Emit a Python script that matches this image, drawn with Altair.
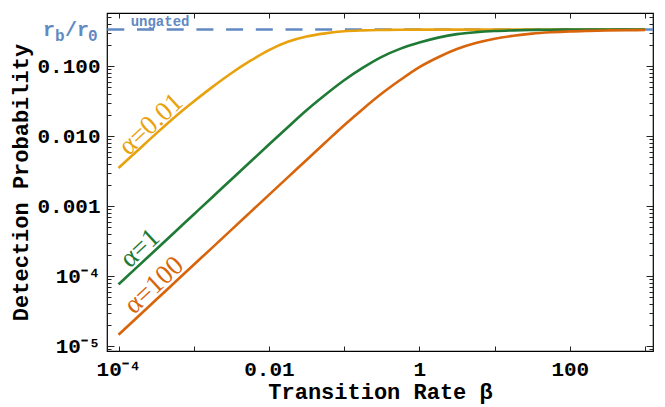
import math
import altair as alt
import pandas as pd

# ---------------- data ----------------
betas = [1e-4, 1.78e-4, 3.16e-4, 5.62e-4,
         1e-3, 1.78e-3, 3.16e-3, 5.62e-3,
         1e-2, 1.78e-2, 3.16e-2, 5.62e-2,
         0.1, 0.178, 0.316, 0.562,
         1, 1.78, 3.16, 5.62,
         10, 17.8, 31.6, 56.2,
         100, 178, 316, 562, 1000]

p_alpha_001 = [0.0035, 0.00619, 0.01089, 0.01884,
               0.03126, 0.0507, 0.0794, 0.1189,
               0.170, 0.2239, 0.2661, 0.2951,
               0.3162, 0.3251, 0.3296, 0.3327,
               0.334, 0.334, 0.334, 0.334,
               0.334, 0.334, 0.334, 0.334,
               0.334, 0.334, 0.334, 0.334, 0.334]

p_alpha_1 = [7.60e-5, 1.352e-4, 2.404e-4, 4.276e-4,
             7.60e-4, 1.352e-3, 2.404e-3, 4.276e-3,
             7.586e-3, 0.0134, 0.02344, 0.03908,
             0.06295, 0.09528, 0.1361, 0.1786,
             0.2183, 0.2564, 0.2877, 0.3069,
             0.3192, 0.3258, 0.3304, 0.3327,
             0.3342, 0.334, 0.334, 0.334, 0.334]

p_alpha_100 = [1.449e-5, 2.576e-5, 4.581e-5, 8.147e-5,
               1.449e-4, 2.576e-4, 4.581e-4, 8.147e-4,
               1.449e-3, 2.576e-3, 4.571e-3, 8.110e-3,
               0.01436, 0.02455, 0.04064, 0.06397,
               0.09705, 0.1346, 0.1762, 0.2143,
               0.2477, 0.2729, 0.2924, 0.3055,
               0.3148, 0.3206, 0.3251, 0.3273, 0.3289]

series_names = ["α=0.01", "α=1", "α=100"]
series_colors = ["#E8A20E", "#1E7A35", "#D8650B"]

rb_r0 = 0.334          # ungated level r_b/r_0

# label anchor points (data coordinates)
label_beta = [2.7e-4, 1.93e-4, 2.97e-4]
label_p = [0.0148, 2.5e-4, 7.4e-5]

ungated_beta = 1.45e-4
ungated_p = 0.372

x_tick_values = [1e-4, 1e-2, 1, 100]
x_tick_labels = ["10⁻⁴", "0.01", "1", "100"]
x_major_ticks = [1e-4, 1e-3, 1e-2, 1e-1, 1, 10, 100, 1000]

y_tick_values = [1e-5, 1e-4, 1e-3, 1e-2, 1e-1]
y_tick_labels = ["10⁻⁵", "10⁻⁴", "0.001", "0.010", "0.100"]
y_minor_ticks = [k * 10.0 ** e for e in range(-6, 0) for k in range(2, 10)]

x_domain = [10 ** -4.153, 10 ** 3.106]
y_domain = [10 ** -5.071, 10 ** -0.239]

# ---------------- build tables ----------------
rows = []
for name, vals in zip(series_names, [p_alpha_001, p_alpha_1, p_alpha_100]):
    for b, p in zip(betas, vals):
        rows.append({"beta": b, "p": p, "series": name})
df = pd.DataFrame(rows)

labels_df = pd.DataFrame({"beta": label_beta, "p": label_p, "series": series_names})


def label_expr(vals, labs):
    s = "''"
    for v, l in reversed(list(zip(vals, labs))):
        s = f"abs(log(datum.value)/LN10 - ({math.log10(v):.4f})) < 0.01 ? '{l}' : ({s})"
    return s


MONO = "Liberation Mono"
xscale = alt.Scale(type="log", domain=x_domain, nice=False)
yscale = alt.Scale(type="log", domain=y_domain, nice=False)
cscale = alt.Scale(domain=series_names, range=series_colors)
BLUE = "#6189C2"
TICK = "#222222"

base = alt.Chart(df)

# tick-only axis layers (ticks drawn inward by negative offset)
def tick_layer(xaxis, yaxis):
    return base.mark_point(opacity=0).encode(
        x=alt.X("beta:Q", scale=xscale, axis=xaxis),
        y=alt.Y("p:Q", scale=yscale, axis=yaxis),
    )

def tick_axis(orient, values, size):
    return alt.Axis(orient=orient, values=values, labels=False, domain=False, grid=False,
                    title=None, tickSize=size, offset=-size, tickColor=TICK, tickWidth=1)

t1 = tick_layer(tick_axis("bottom", x_major_ticks, 5), tick_axis("left", y_tick_values, 7))
t2 = tick_layer(tick_axis("top", x_major_ticks, 5), tick_axis("right", y_tick_values, 7))
t3 = tick_layer(None, tick_axis("left", y_minor_ticks, 4))
t4 = tick_layer(None, tick_axis("right", y_minor_ticks, 4))

rule = alt.Chart(pd.DataFrame({"p": [rb_r0]})).mark_rule(
    strokeDash=[17, 12.7], strokeDashOffset=5.9, strokeWidth=2.5, color=BLUE
).encode(y=alt.Y("p:Q", scale=yscale, axis=None))

lines = base.mark_line(strokeWidth=2.6, interpolate="monotone").encode(
    x=alt.X("beta:Q", scale=xscale, axis=alt.Axis(
        orient="bottom", values=x_tick_values, labelExpr=label_expr(x_tick_values, x_tick_labels),
        ticks=False, domain=False, grid=False, title="Transition Rate β",
        labelFont=MONO, labelFontSize=21, labelFontWeight="bold", labelColor="black",
        labelPadding=7, labelOverlap=False, labelFlush=False,
        titleFont=MONO, titleFontSize=22, titleFontWeight="bold", titleColor="black", titlePadding=2)),
    y=alt.Y("p:Q", scale=yscale, axis=alt.Axis(
        orient="left", values=y_tick_values, labelExpr=label_expr(y_tick_values, y_tick_labels),
        ticks=False, domain=False, grid=False, title="Detection Probability",
        labelFont=MONO, labelFontSize=21, labelFontWeight="bold", labelColor="black",
        labelPadding=7, labelOverlap=False, labelFlush=False,
        titleFont=MONO, titleFontSize=22, titleFontWeight="bold", titleColor="black", titlePadding=4)),
    color=alt.Color("series:N", scale=cscale, legend=None),
)

curve_labels = alt.Chart(labels_df).mark_text(
    angle=317, font="Liberation Serif", fontSize=27, align="center", baseline="middle"
).encode(
    x=alt.X("beta:Q", scale=xscale, axis=None),
    y=alt.Y("p:Q", scale=yscale, axis=None),
    text="series:N",
    color=alt.Color("series:N", scale=cscale, legend=None),
)

ungated = alt.Chart(pd.DataFrame({"beta": [ungated_beta], "p": [ungated_p], "t": ["ungated"]})).mark_text(
    align="left", baseline="alphabetic", font=MONO, fontSize=14, fontWeight="bold", color=BLUE
).encode(
    x=alt.X("beta:Q", scale=xscale, axis=None),
    y=alt.Y("p:Q", scale=yscale, axis=None),
    text="t:N",
)

rb_df = pd.DataFrame({"p": [rb_r0]})
def rb_part(txt, xpix, dy, size):
    return alt.Chart(rb_df).mark_text(
        align="left", baseline="alphabetic", font=MONO, fontSize=size, fontWeight="bold",
        color=BLUE, dy=dy, text=txt
    ).encode(x=alt.value(xpix), y=alt.Y("p:Q", scale=yscale, axis=None))

rb_label = (rb_part("r", -64, 6, 20) + rb_part("b", -52, 11, 16)
            + rb_part("/r", -42, 6, 20) + rb_part("0", -19, 11, 16))

chart = alt.layer(t1, t2, t3, t4, rule, lines, curve_labels, ungated, rb_label).resolve_axis(
    x="independent", y="independent"
).properties(
    width=546, height=338,
    autosize=alt.AutoSizeParams(type="none"),
    padding={"left": 99, "top": 5, "right": 4, "bottom": 55},
).configure_view(stroke="black", strokeWidth=1.2)

chart.save("out.html", embed_options={"renderer": "svg", "actions": False})
